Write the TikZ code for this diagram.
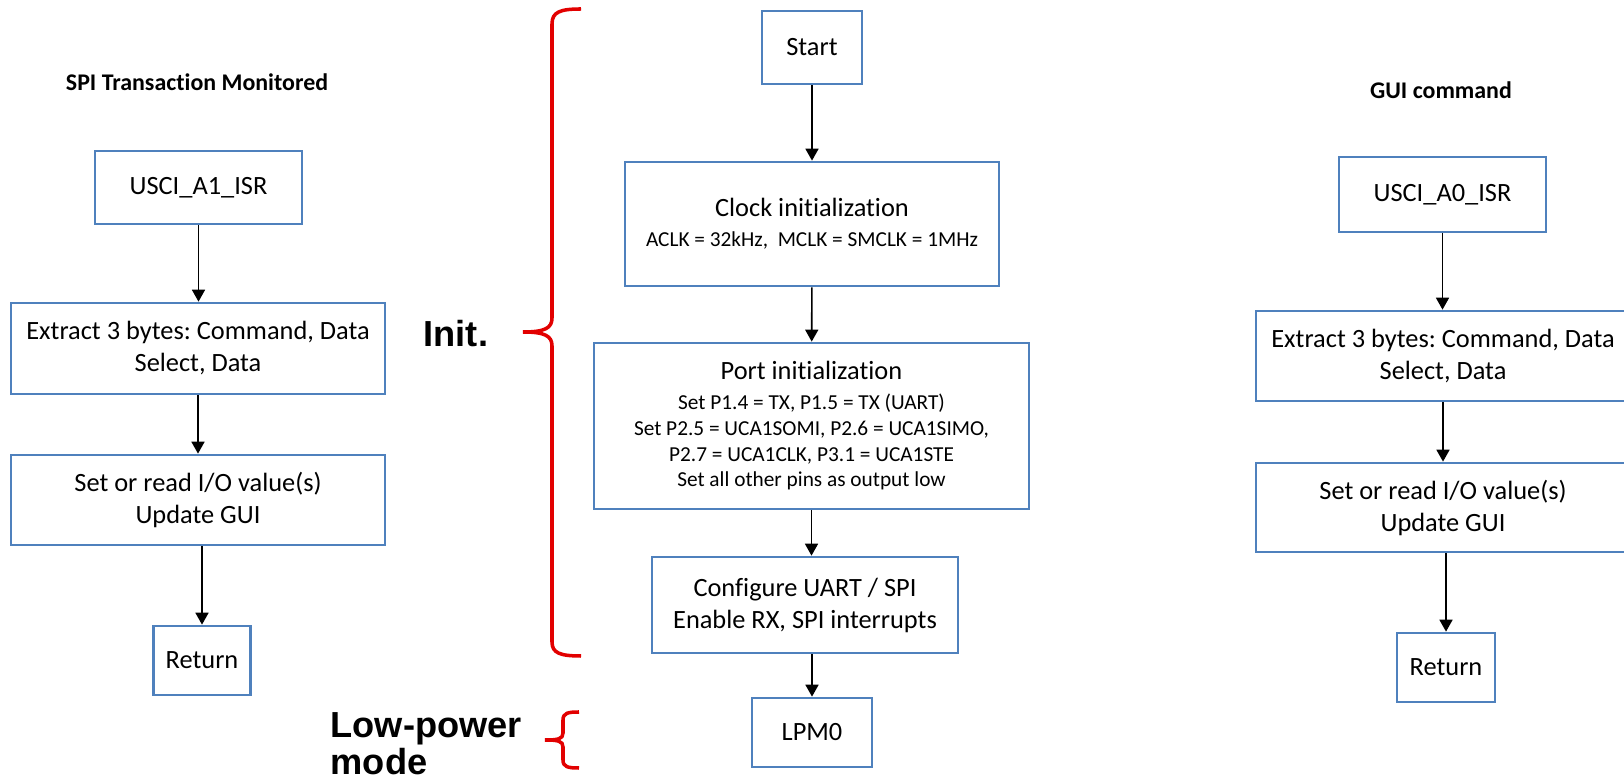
\documentclass[tikz,border=0pt]{standalone}
\usepackage{fontspec}
\setmainfont{Carlito}[Ligatures=NoCommon]
\newfontfamily\markfont{Liberation Sans}
\usetikzlibrary{arrows.meta}
\definecolor{boxblue}{RGB}{79,129,189}
\definecolor{bracered}{RGB}{226,0,0}
\frenchspacing

\begin{document}
\begin{tikzpicture}[x=0.01cm,y=-0.01cm,
		box/.style={draw=boxblue,line width=0.75pt,inner sep=0pt,align=center,
			font=\fontsize{7.5}{9.1}\selectfont},
		small/.style={font=\fontsize{6.06}{7.3}\selectfont},
		head/.style={inner sep=0pt,font=\bfseries\fontsize{6.8}{8}\selectfont},
		sidelabel/.style={inner sep=0pt,align=left,font=\markfont\bfseries\fontsize{10.3}{10.5}\selectfont},
		flow/.style={-{Triangle[width=3.7pt,length=3.4pt]},line width=0.45pt},
		curly/.style={draw=bracered,line width=1pt}]
		
		\useasboundingbox (0,0) rectangle (1624,780);
		\clip (0,0) rectangle (1624,780);
		
		% left column
		\node[head] (t1) at (197,82) {SPI Transaction Monitored};
		\node[box,minimum width=2.07cm,minimum height=0.73cm] (isr1) at (198.5,187.5) {USCI\_A1\_ISR};
		\node[box,minimum width=3.74cm,minimum height=0.91cm] (ext1) at (198,348.5) {Extract 3 bytes: Command, Data\\Select, Data};
		\node[box,minimum width=3.74cm,minimum height=0.9cm] (set1) at (198,500) {Set or read I/O value(s)\\Update GUI};
		\node[box,minimum width=0.97cm,minimum height=0.69cm] (ret1) at (202,660.5) {Return};
		
		% middle column
		\node[box,minimum width=1cm,minimum height=0.73cm] (start) at (812,47.5) {Start};
		\node[box,minimum width=3.74cm,minimum height=1.24cm] (clock) at (812,224) {Clock initialization\\[-0.6pt]{\fontsize{6.06}{7.3}\selectfont ACLK = 32kHz,\ \ MCLK = SMCLK = 1MHz}};
		\node[box,small,minimum width=4.35cm,minimum height=1.66cm] (port) at (811.5,426) {{\fontsize{7.5}{9.1}\selectfont Port initialization}\\[1.2pt]
			Set P1.4 = TX, P1.5 = TX (UART)\\
			Set P2.5 = UCA1SOMI, P2.6 = UCA1SIMO,\\
			P2.7 = UCA1CLK, P3.1 = UCA1STE\\
			Set all other pins as output low};
		\node[box,minimum width=3.06cm,minimum height=0.96cm] (cfg) at (805,605) {Configure UART / SPI\\Enable RX, SPI interrupts};
		\node[box,minimum width=1.2cm,minimum height=0.69cm] (lpm) at (812,732.5) {LPM0};
		
		% right column
		\node[head] (t0) at (1441,90) {GUI command};
		\node[box,minimum width=2.07cm,minimum height=0.75cm] (isr0) at (1442.5,194.5) {USCI\_A0\_ISR};
		\node[box,minimum width=3.74cm,minimum height=0.9cm] (ext0) at (1443,356) {Extract 3 bytes: Command, Data\\Select, Data};
		\node[box,minimum width=3.74cm,minimum height=0.89cm] (set0) at (1443,507.5) {Set or read I/O value(s)\\Update GUI};
		\node[box,minimum width=0.98cm,minimum height=0.69cm] (ret0) at (1446,667.5) {Return};
		
		% labels
		\node[sidelabel,anchor=base west] (init) at (423,347) {Init.};
		\node[sidelabel,anchor=north west] (lpmode) at (330,712) {Low-power\\mode};
		
		\draw[flow] (isr1) to (isr1 |- ext1.north);
		\draw[flow] (ext1) to (set1);
		\draw[flow] (set1.south -| ret1) to (ret1);
		
		\draw[flow] (start) to (clock);
		\draw[flow] (clock) to (port);
		\draw[flow] (port) to (port |- cfg.north);
		\draw[flow] (cfg.south -| lpm) to (lpm);
		
		\draw[flow] (isr0) to (isr0 |- ext0.north);
		\draw[flow] (ext0) to (set0);
		\draw[flow] (set0.south -| ret0) to (ret0);
		
		% braces
		\draw[curly] (581,9) .. controls (560,9) and (552,12) .. (552,24) -- (552,318)
			.. controls (552,328) and (545,332) .. (523,332)
			.. controls (545,332) and (552,336) .. (552,346) -- (552,642)
			.. controls (552,653) and (560,656) .. (581,656);
		\draw[curly] (579,712) .. controls (568,712) and (563,713) .. (563,720) -- (563,733)
			.. controls (563,739) and (558,740) .. (545,740)
			.. controls (558,740) and (563,741) .. (563,747) -- (563,760)
			.. controls (563,767) and (568,768) .. (579,768);
		
	\end{tikzpicture}
\end{document}
